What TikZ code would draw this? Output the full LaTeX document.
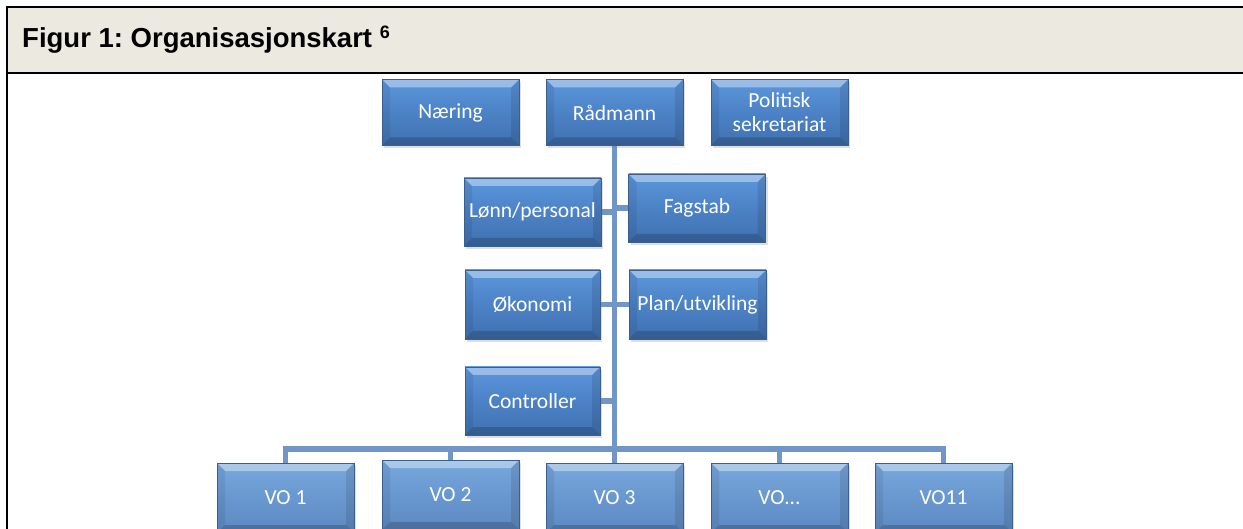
\documentclass[tikz,border=0pt]{standalone}
\usepackage{fontspec}
\setmainfont{Carlito}
\newfontfamily\titlefont{Liberation Sans}
\usetikzlibrary{backgrounds,shadows}
\frenchspacing
\definecolor{headerbg}{HTML}{ECE9E0}
\definecolor{connc}{HTML}{7096C8}
\definecolor{boxmain}{HTML}{4C82C6}
\definecolor{boxtop}{HTML}{5C97DC}
\definecolor{boxbot}{HTML}{3F71B0}
\definecolor{boxline}{HTML}{3A5F8F}
\definecolor{vomain}{HTML}{6997CF}
\definecolor{votop}{HTML}{78A8DE}
\definecolor{vobot}{HTML}{5C89C0}
\tikzset{
  bevel/.style={path picture={
    \fill[white,opacity=0.38] (path picture bounding box.north west) -- (path picture bounding box.north east)
      -- ([shift={(-8,8)}]path picture bounding box.north east) -- ([shift={(8,8)}]path picture bounding box.north west) -- cycle;
    \fill[black,opacity=0.18] (path picture bounding box.south west) -- (path picture bounding box.south east)
      -- ([shift={(-8,-8)}]path picture bounding box.south east) -- ([shift={(8,-8)}]path picture bounding box.south west) -- cycle;
    \fill[black,opacity=0.07] (path picture bounding box.north west) -- ([shift={(8,8)}]path picture bounding box.north west)
      -- ([shift={(8,-8)}]path picture bounding box.south west) -- (path picture bounding box.south west) -- cycle;
    \fill[black,opacity=0.10] (path picture bounding box.north east) -- ([shift={(-8,8)}]path picture bounding box.north east)
      -- ([shift={(-8,-8)}]path picture bounding box.south east) -- (path picture bounding box.south east) -- cycle;
  }},
  orgbox/.style={rectangle, draw=boxline, line width=0.6pt, top color=boxtop, bottom color=boxbot, middle color=boxmain,
    minimum width=137pt, minimum height=66pt, inner sep=2pt, text=white, align=center,
    font=\fontsize{21.5}{24}\selectfont, bevel,
    drop shadow={shadow xshift=2pt, shadow yshift=-3pt, opacity=0.25}},
  vobox/.style={orgbox, top color=votop, bottom color=vobot, middle color=vomain, minimum height=70pt},
  conn/.style={draw=connc, line width=5.5pt}
}
\begin{document}
\begin{tikzpicture}[x=1pt,y=-1pt]
\useasboundingbox (0,0) rectangle (1243,529);
\clip (0,0) rectangle (1243,529);
\fill[headerbg] (7,7) rectangle (1243,73.5);
\draw[black, line width=2pt] (1243,7) -- (7,7) -- (7,535);
\draw[black, line width=2pt] (7,73.5) -- (1243,73.5);
\node[anchor=base west, inner sep=0pt, font=\titlefont\bfseries\fontsize{27.5}{30}\selectfont] (title) at (22,48)
  {Figur 1: Organisasjonskart \raisebox{9pt}{\fontsize{18}{18}\selectfont 6}};

\node[orgbox] (naering) at (450.5,112.5) {Næring};
\node[orgbox] (radmann) at (614.5,112.5) {Rådmann};
\node[orgbox] (politisk) at (779.5,112.5) {Politisk\\sekretariat};
\node[orgbox, minimum height=68pt] (lonn) at (532.5,212) {Lønn/personal};
\node[orgbox, minimum height=68pt] (fagstab) at (697,208) {Fagstab};
\node[orgbox, minimum height=69pt, minimum width=135pt] (okonomi) at (532.5,304.5) {Økonomi};
\node[orgbox, minimum height=69pt] (plan) at (697.5,304.5) {Plan/utvikling};
\node[orgbox, minimum height=68pt, minimum width=135pt] (controller) at (532.5,401) {Controller};

\node[vobox] (vo1) at (285.5,498) {VO 1};
\node[vobox] (vo2) at (450.5,495) {VO 2};
\node[vobox] (vo3) at (614.5,498) {VO 3};
\node[vobox] (vo4) at (779.5,498) {VO...};
\node[vobox] (vo11) at (943.5,498) {VO11};

\coordinate (bus) at (0,449);
\begin{pgfonlayer}{background}
\draw[conn] (radmann.south) -- (radmann.south |- bus);
\draw[conn] (vo1.north) -- (vo1.north |- bus) -- (vo11.north |- bus) -- (vo11.north);
\foreach \v in {vo2,vo3,vo4} \draw[conn] (\v.north) -- (\v.north |- bus);
\draw[conn] (lonn.east) -- (lonn.east -| radmann.south);
\draw[conn] (fagstab.west) -- (fagstab.west -| radmann.south);
\draw[conn] (okonomi.east) -- (okonomi.east -| radmann.south);
\draw[conn] (plan.west) -- (plan.west -| radmann.south);
\draw[conn] (controller.east) -- (controller.east -| radmann.south);
\end{pgfonlayer}
\end{tikzpicture}
\end{document}
